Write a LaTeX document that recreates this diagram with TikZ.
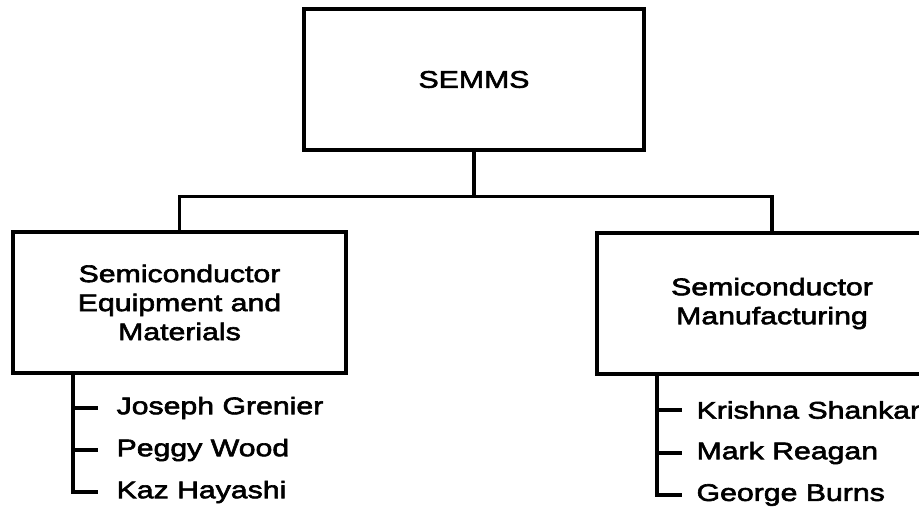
\documentclass[tikz,border=0pt]{standalone}
\usepackage{fontspec}
\setmainfont[FakeStretch=1.26,FakeBold=2.5]{Liberation Sans}
\usetikzlibrary{positioning}

\begin{document}
\begin{tikzpicture}[x=1pt,y=-1pt,line width=3.2pt,
    unit/.style={draw,align=center,minimum height=141pt,inner sep=0pt,
      font=\fontsize{24}{29}\selectfont},
    member/.style={anchor=west,inner sep=0pt,font=\fontsize{24}{29}\selectfont}]
        \useasboundingbox (0,0) rectangle (919,514);
        \clip (0,0) rectangle (919,514);
        % the three boxes
        \node[unit,minimum width=340pt] (semms) at (474,79.5) {SEMMS};
        \node[unit,minimum width=333pt] (equip) at (179.5,302.5) {Semiconductor\\Equipment and\\Materials};
        \node[unit,minimum width=350pt] (manu) at (772,303.5) {Semiconductor\\Manufacturing};
        \draw (semms.south) -- ++(0,45) coordinate (hub);
        \draw (equip.north) |- (hub) -| (manu.north);
        % people
        \node[member] (jg) at (115,408) {Joseph Grenier};
        \node[member] (pw) at (115,450) {Peggy Wood};
        \node[member] (kh) at (115,492) {Kaz Hayashi};
        \node[member] (ks) at (695,410) {Krishna Shankar};
        \node[member] (mr) at (695,453) {Mark Reagan};
        \node[member] (gb) at (695,495) {George Burns};
        \coordinate (lroot) at ([xshift=-42pt]jg.west |- equip.south);
        \coordinate (rroot) at ([xshift=-38pt]ks.west |- manu.south);
        \draw (lroot) |- ([xshift=-17pt]kh.west);
        \draw (lroot |- jg.west) -- ([xshift=-17pt]jg.west);
        \draw (lroot |- pw.west) -- ([xshift=-17pt]pw.west);
        \draw (rroot) |- ([xshift=-13pt]gb.west);
        \draw (rroot |- ks.west) -- ([xshift=-13pt]ks.west);
        \draw (rroot |- mr.west) -- ([xshift=-13pt]mr.west);
\end{tikzpicture}
\end{document}
